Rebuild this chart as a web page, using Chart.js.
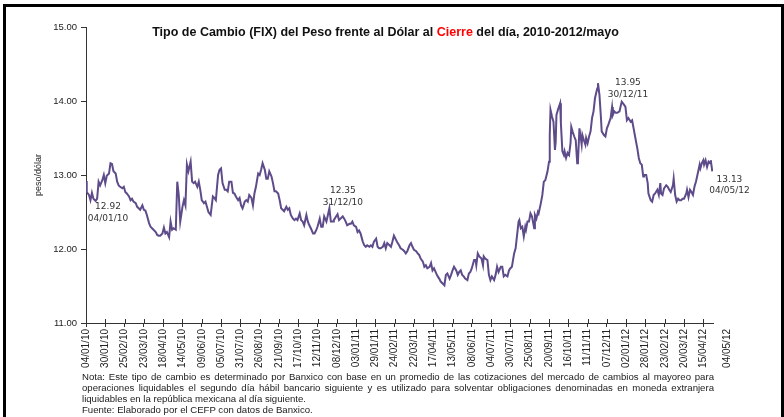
<!DOCTYPE html>
<html><head><meta charset="utf-8">
<script src="https://cdn.jsdelivr.net/npm/chart.js@4.4.1/dist/chart.umd.min.js"></script>
<style>
html,body{margin:0;padding:0;background:#fff;width:784px;height:417px;overflow:hidden;}
#wrap{position:relative;width:784px;height:417px;}
#c{position:absolute;left:0;top:0;}
#frame{position:absolute;left:3px;top:4px;width:775px;height:500px;border:3px solid #000;}
#notes{position:absolute;left:82px;top:371px;width:632px;font-family:"Liberation Sans",Arial,sans-serif;font-size:9.6px;line-height:11px;color:#1a1a1a;}
#notes .j{text-align:justify;text-align-last:justify;}
</style></head>
<body><div id="wrap">
<canvas id="c" width="784" height="417"></canvas>
<div id="frame"></div>
<div id="notes">
<div class="j">Nota: Este tipo de cambio es determinado por Banxico con base en un promedio de las cotizaciones del mercado de cambios al mayoreo para</div>
<div class="j">operaciones liquidables el segundo día hábil bancario siguiente y es utilizado para solventar obligaciones denominadas en moneda extranjera</div>
<div>liquidables en la república mexicana al día siguiente.</div>
<div>Fuente: Elaborado por el CEFP con datos de Banxico.</div>
</div>
</div>
<script>
// days counted from 04/01/10 (day 0)
const dias = [
0,1,4,6,8,10,13,15,17,19,22,24,26,28,31,33,35,37,40,42,44,46,49,51,53,55,58,60,62,64,67,69,71,73,76,78,80,82,85,87,89,91,94,96,98,100,103,105,107,109,112,114,116,118,121,123,125,127,130,132,134,136,138,141,143,145,147,150,152,154,156,159,161,163,165,168,
171,173,175,178,180,182,184,187,189,191,193,196,198,200,202,205,207,209,211,214,216,218,220,223,225,227,229,232,234,236,238,241,243,245,247,250,252,254,256,259,261,263,265,267,270,272,274,276,279,281,283,285,288,290,292,294,297,299,301,303,306,308,310,312,315,317,319,321,324,326,328,330,333,
334,337,339,341,343,346,348,350,352,355,357,359,361,364,366,368,370,373,375,377,379,382,384,386,388,391,393,395,397,400,402,404,406,409,411,413,415,418,420,422,424,427,429,431,433,436,438,440,442,445,447,449,451,454,456,458,460,463,465,467,469,472,474,476,478,481,483,485,487,490,492,494,496,499,501,
503,505,507,509,511,514,516,518,520,523,525,526,528,530,533,535,536,538,541,543,545,547,550,552,554,556,559,561,563,565,568,570,572,574,577,579,581,583,584,586,588,590,592,593,595,597,599,601,604,605,607,609,610,613,615,617,619,622,624,625,626,628,630,632,633,634,636,639,640,642,644,645,647,649,651,653,654,656,658,660,662,663,665,
668,669,671,673,674,676,678,680,682,684,686,689,690,692,694,695,698,700,702,704,707,709,710,712,714,716,719,721,722,725,727,729,731,734,736,738,740,743,745,747,749,751,752,755,757,758,761,763,765,767,770,772,774,775,777,779,782,784,786,788,791,792,794,796,798,800,802,804,806,809,810,812,814,816,818,820,822,824,827,828,830,832,833,835,837,839,841,842,844
];
const valores = [
12.92,12.77,12.73,12.66,12.76,12.68,12.65,12.68,12.91,12.86,12.93,13.00,12.89,12.99,13.02,13.16,13.15,13.05,13.02,12.91,12.86,12.84,12.82,12.84,12.77,12.75,12.71,12.66,12.68,12.64,12.62,12.57,12.55,12.53,12.59,12.53,12.52,12.46,12.35,12.30,12.28,12.26,12.23,12.19,12.18,12.18,12.21,12.29,12.21,12.23,12.16,12.37,12.26,12.28,12.26,12.91,12.73,12.37,12.57,12.66,12.59,13.14,13.05,13.18,12.91,12.89,12.91,12.84,12.91,12.80,12.66,12.62,12.64,12.57,12.50,12.46,
12.71,12.69,12.66,13.00,13.07,13.09,12.89,12.80,12.80,12.78,12.91,12.91,12.76,12.75,12.71,12.66,12.69,12.59,12.55,12.64,12.66,12.64,12.73,12.69,12.59,12.75,12.84,13.02,13.00,13.07,13.16,13.07,12.95,12.95,13.05,12.98,12.89,12.78,12.78,12.75,12.66,12.55,12.53,12.51,12.57,12.53,12.55,12.46,12.41,12.39,12.41,12.39,12.48,12.39,12.37,12.32,12.46,12.37,12.32,12.28,12.21,12.21,12.25,12.30,12.41,12.30,12.30,12.44,12.37,12.46,12.55,12.37,12.37,
12.39,12.44,12.47,12.39,12.41,12.44,12.41,12.37,12.32,12.34,12.34,12.37,12.32,12.30,12.23,12.25,12.21,12.10,12.05,12.03,12.05,12.03,12.05,12.03,12.10,12.14,12.03,12.01,12.01,12.03,12.08,12.01,12.08,12.05,12.03,12.10,12.18,12.12,12.08,12.05,12.01,11.99,11.97,11.94,11.97,12.05,12.08,12.03,11.99,11.97,11.94,11.92,11.87,11.83,11.76,11.78,11.74,11.76,11.81,11.71,11.74,11.67,11.63,11.60,11.56,11.53,11.51,11.65,11.67,11.60,11.65,11.71,11.76,11.71,11.65,
11.69,11.71,11.65,11.63,11.60,11.58,11.67,11.69,11.74,11.85,11.85,11.78,11.94,11.90,11.87,11.78,11.90,11.87,11.85,11.65,11.58,11.63,11.58,11.65,11.76,11.69,11.76,11.76,11.63,11.65,11.63,11.71,11.74,11.76,11.94,12.01,12.19,12.37,12.39,12.28,12.30,12.17,12.30,12.26,12.37,12.37,12.48,12.44,12.28,12.46,12.41,12.50,12.48,12.62,12.73,12.91,12.93,13.05,13.18,13.54,13.88,13.79,13.72,13.34,13.45,13.81,13.88,13.97,13.70,13.32,13.27,13.32,13.23,13.30,13.27,13.43,13.65,13.58,13.52,13.47,13.16,13.18,13.63,
13.41,13.54,13.47,13.41,13.50,13.43,13.52,13.59,13.77,13.86,14.04,14.17,14.24,14.08,13.77,13.59,13.54,13.52,13.63,13.68,13.77,13.92,13.81,13.86,13.84,13.84,13.86,13.95,13.99,13.95,13.92,13.74,13.77,13.72,13.74,13.63,13.52,13.36,13.23,13.16,13.14,12.98,13.00,13.00,12.89,12.75,12.66,12.64,12.73,12.75,12.80,12.73,12.89,12.75,12.73,12.82,12.86,12.84,12.80,12.77,12.86,12.95,12.73,12.64,12.68,12.66,12.66,12.68,12.68,12.75,12.80,12.70,12.80,12.77,12.73,12.84,12.91,13.00,13.14,13.09,13.16,13.20,13.14,13.20,13.11,13.18,13.16,13.20,13.05
];
const etiquetasX = ['04/01/10','30/01/10','25/02/10','23/03/10','18/04/10','14/05/10','09/06/10','05/07/10','31/07/10','26/08/10','21/09/10','17/10/10','12/11/10','08/12/10','03/01/11','29/01/11','24/02/11','22/03/11','17/04/11','13/05/11','08/06/11','04/07/11','30/07/11','25/08/11','20/09/11','16/10/11','11/11/11','07/12/11','02/01/12','28/01/12','23/02/12','20/03/12','15/04/12','04/05/12'];
const diasEtiquetas = [0,26,52,78,104,130,156,182,208,234,260,286,312,338,364,390,416,442,468,494,520,546,572,598,624,650,676,702,728,754,780,806,832,864];
const ticksY = [11,12,13,14,15];
const anotValores = [12.92, 12.35, 13.95, 13.13];
const anotFechas = ['04/01/10','31/12/10','30/12/11','04/05/12'];
const anotDias = [0, 361, 725, 851];
const anotOffsets = [[22,26],[-11,-32],[4,-22],[12,14]];

const X_MAX = 845;
const n = Math.min(dias.length, valores.length);
const puntos = [];
for (let i = 0; i < n; i++) puntos.push({x: dias[i], y: valores[i]});

const FONT = '"Liberation Sans", Arial, sans-serif';

const extras = {
  id: 'extras',
  afterDraw(chart) {
    const ctx = chart.ctx, xs = chart.scales.x, ys = chart.scales.y, ca = chart.chartArea;
    ctx.save();
    ctx.strokeStyle = '#333'; ctx.lineWidth = 1;
    xs.ticks.forEach(t => {
      if (t.value > X_MAX) return;
      const px = Math.round(xs.getPixelForValue(t.value)) + 0.5;
      ctx.beginPath(); ctx.moveTo(px, ca.bottom - 4); ctx.lineTo(px, ca.bottom); ctx.stroke();
    });
    ctx.fillStyle = '#333';
    ctx.font = '9px "DejaVu Sans", Verdana, sans-serif';
    ctx.textAlign = 'center'; ctx.textBaseline = 'middle';
    anotValores.forEach((v, i) => {
      const px = xs.getPixelForValue(anotDias[i]) + anotOffsets[i][0];
      const py = ys.getPixelForValue(v) + anotOffsets[i][1];
      ctx.fillText(v.toFixed(2), px, py);
      ctx.fillText(anotFechas[i], px, py + 11.5);
    });
    const parts = [['Tipo de Cambio (FIX) del Peso frente al Dólar al ', '#111'], ['Cierre', '#ff0000'], [' del día, 2010-2012/mayo', '#111']];
    ctx.font = 'bold 12.5px ' + FONT;
    ctx.textAlign = 'left';
    const total = parts.reduce((s, p) => s + ctx.measureText(p[0]).width, 0);
    let x = 385.5 - total / 2;
    parts.forEach(p => { ctx.fillStyle = p[1]; ctx.fillText(p[0], x, 33); x += ctx.measureText(p[0]).width; });
    ctx.restore();
  }
};

new Chart(document.getElementById('c'), {
  type: 'line',
  data: { datasets: [{ data: puntos, borderColor: '#5e4b8a', borderWidth: 2, pointRadius: 0, tension: 0, fill: false }] },
  options: {
    responsive: false, animation: false, devicePixelRatio: 1,
    layout: { padding: { top: 27, left: 0, right: 71, bottom: 44 } },
    plugins: { legend: { display: false }, tooltip: { enabled: false }, title: { display: false } },
    scales: {
      x: {
        type: 'linear', min: 0, max: X_MAX,
        afterBuildTicks: s => { s.ticks = diasEtiquetas.map(v => ({ value: v })); },
        afterFit: s => { s.height = 50; },
        ticks: { autoSkip: false, minRotation: 90, maxRotation: 90, padding: 2, color: '#222',
                 font: { family: FONT, size: 10 }, callback: (v, i) => etiquetasX[i] },
        grid: { drawOnChartArea: false, tickLength: 4, color: '#333',
                tickColor: c => (c.tick && c.tick.value > X_MAX) ? 'rgba(0,0,0,0)' : '#333' },
        border: { color: '#333', width: 1 }
      },
      y: {
        min: 11, max: 15,
        afterBuildTicks: s => { s.ticks = ticksY.map(v => ({ value: v })); },
        afterFit: s => { s.width = 86; },
        ticks: { padding: 4, color: '#222', font: { family: FONT, size: 9.5 }, callback: v => Number(v).toFixed(2) },
        grid: { drawOnChartArea: false, tickLength: 5, color: '#333' },
        border: { color: '#333', width: 1 },
        title: { display: true, text: 'peso/dólar', color: '#222', font: { family: FONT, size: 9 }, padding: { top: 33, bottom: 0 } }
      }
    }
  },
  plugins: [extras]
});
</script>
</body></html>
